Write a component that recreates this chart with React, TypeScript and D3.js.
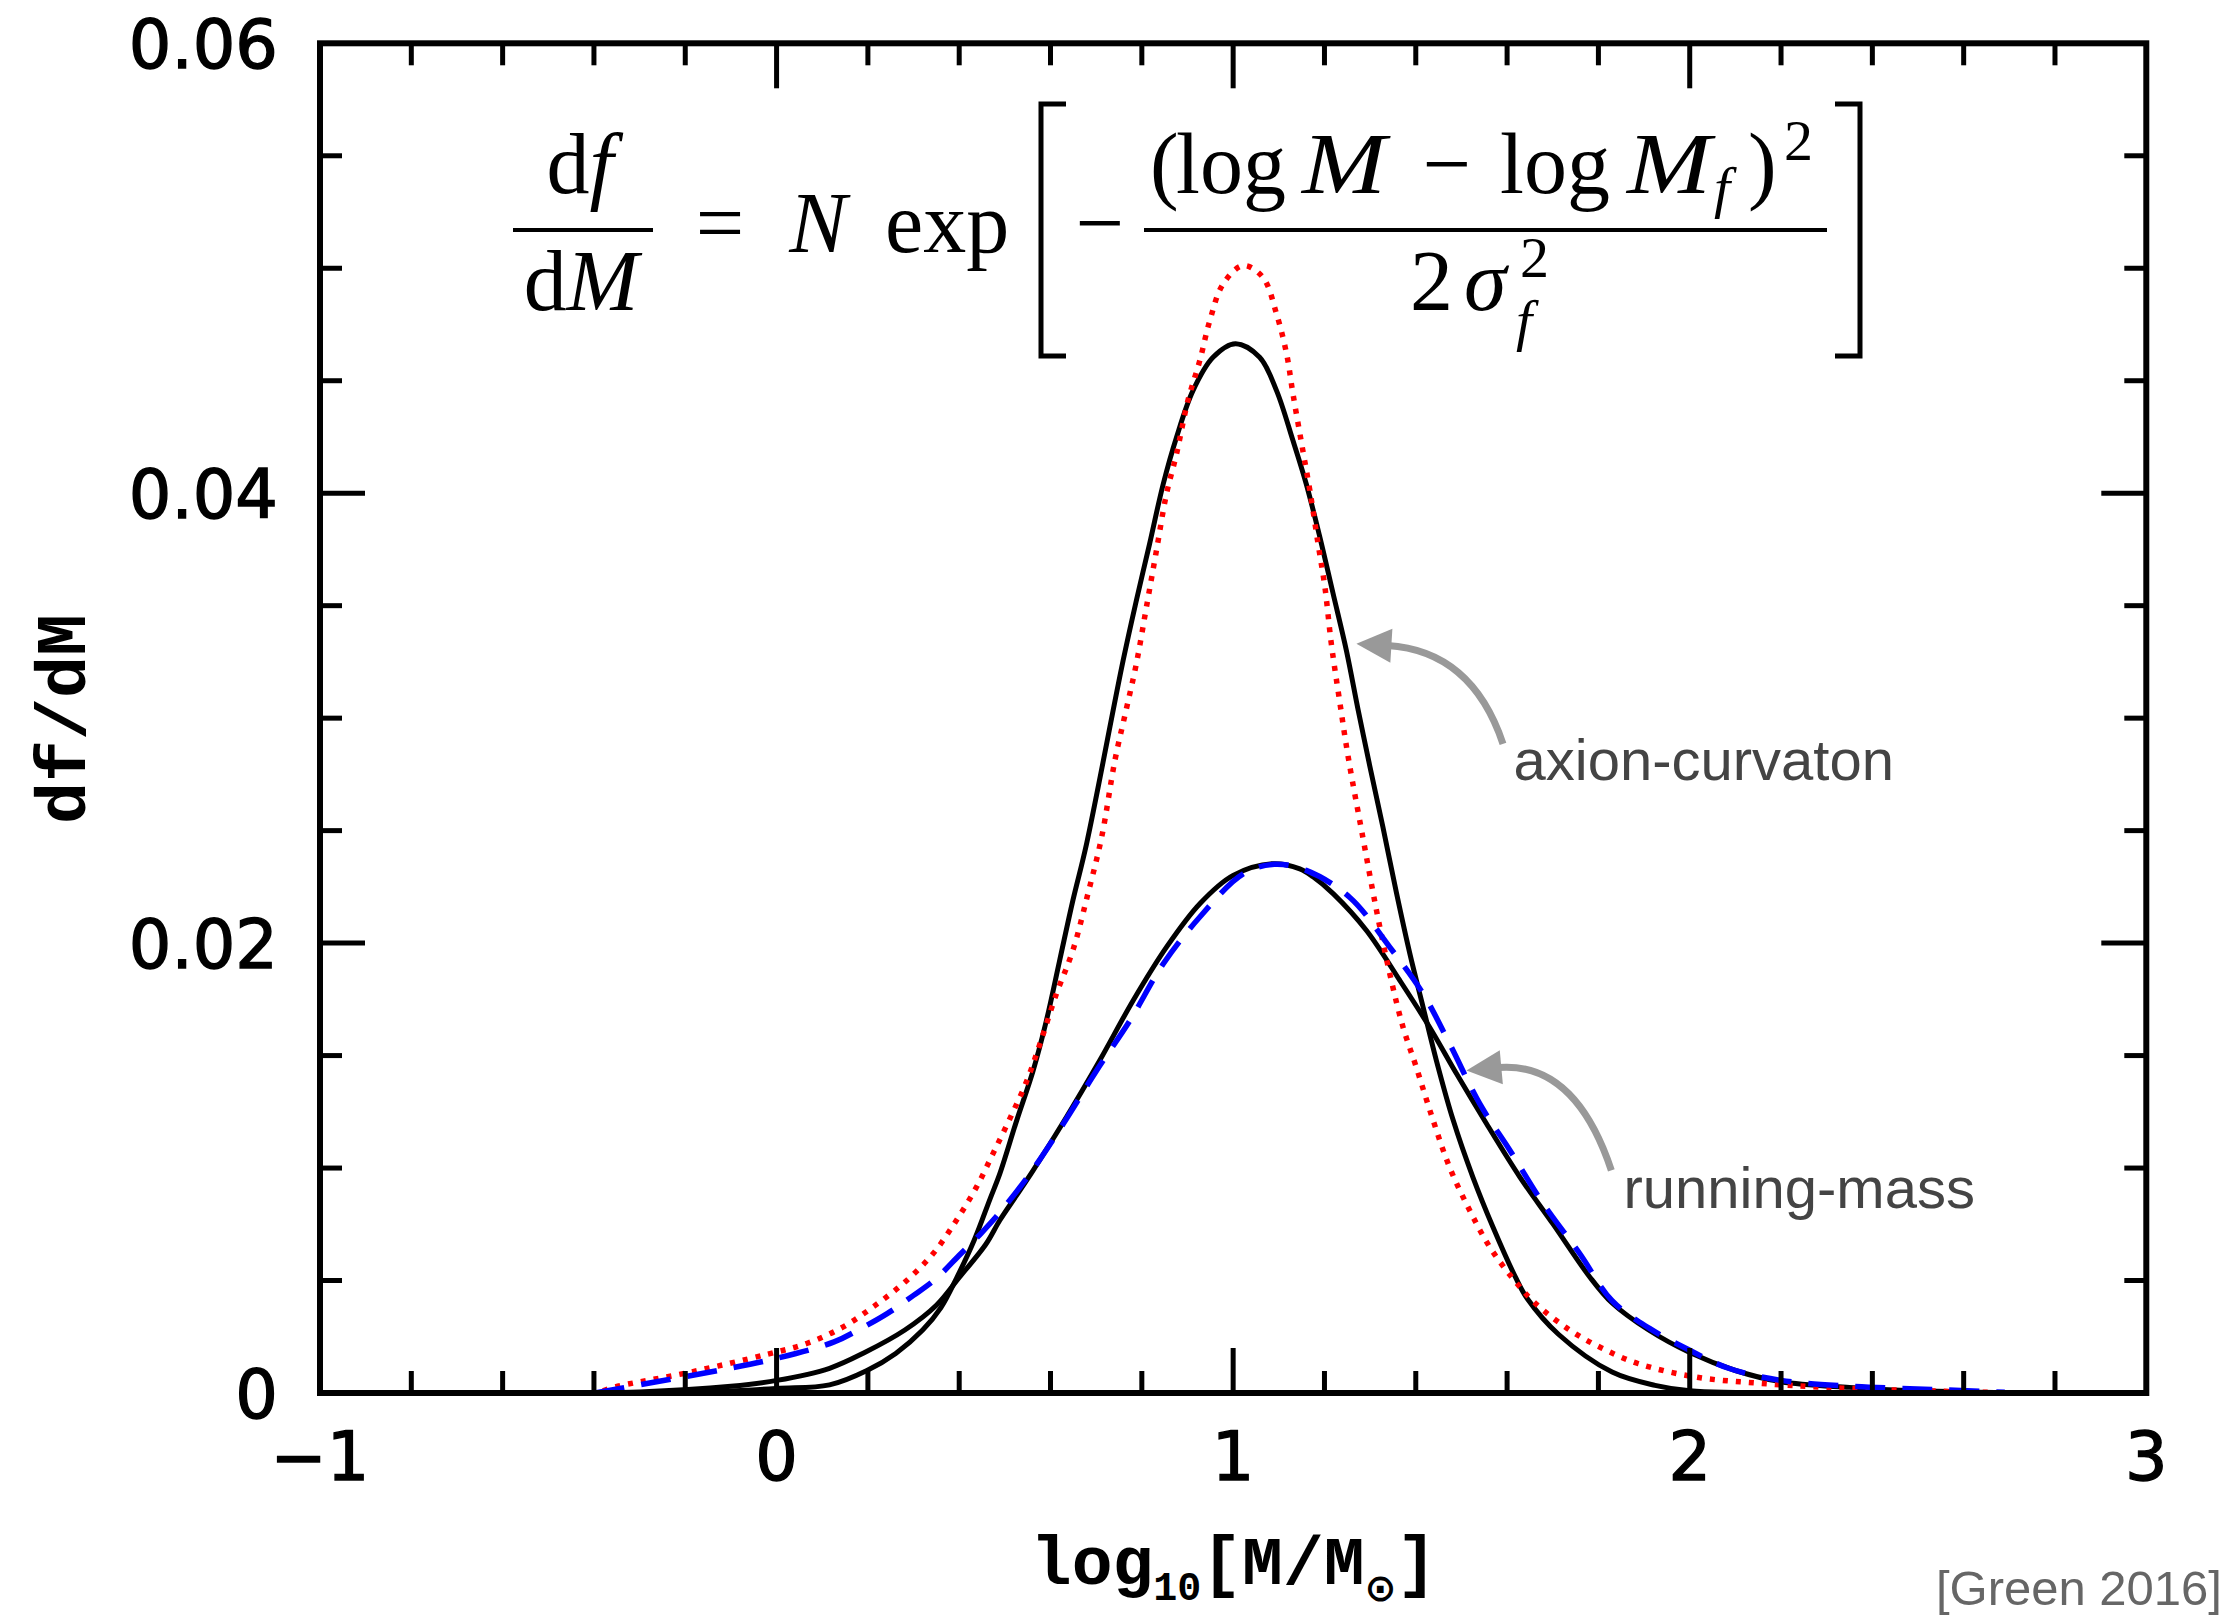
import React from 'react';
import * as d3 from 'd3';

type Pt = [number, number];

// ---------- DATA (log10[M/Msun], df/dM) ----------
const axionCurvaton: Pt[] = [
  [-0.5, 0], [-0.2, 0.00002], [0.0, 0.0002], [0.116, 0.00036], [0.198, 0.001], [0.261, 0.00176],
  [0.32, 0.0028], [0.36, 0.0038], [0.394, 0.0051], [0.433, 0.0068], [0.467, 0.0086], [0.489, 0.00975],
  [0.526, 0.01212], [0.562, 0.01434], [0.591, 0.01656], [0.62, 0.01923], [0.649, 0.0219],
  [0.679, 0.02442], [0.759, 0.03256], [0.788, 0.03523],
  [0.817, 0.03775], [0.847, 0.04042], [0.876, 0.04249], [0.912, 0.04456], [0.956, 0.04604],
  [1.005, 0.04664], [1.058, 0.04604], [1.095, 0.04456], [1.131, 0.04234], [1.16, 0.04042],
  [1.19, 0.03804], [1.219, 0.03553], [1.248, 0.03301], [1.274, 0.03034], [1.299, 0.0279],
  [1.328, 0.02516], [1.358, 0.0222], [1.387, 0.01953], [1.416, 0.01716], [1.445, 0.01479],
  [1.482, 0.01212], [1.525, 0.0096], [1.569, 0.00738], [1.62, 0.00508], [1.644, 0.0042],
  [1.713, 0.0026], [1.83, 0.00093], [1.924, 0.00034], [2.0, 0.0001], [2.2, 0],
];

const axionFit: Pt[] = [
  [-0.38, 0.0001], [-0.354, 0.00027], [-0.188, 0.00093], [-0.021, 0.00172], [0.066, 0.0022],
  [0.145, 0.00293], [0.213, 0.00385], [0.281, 0.00493], [0.343, 0.0062], [0.394, 0.00768],
  [0.438, 0.00916], [0.474, 0.01064], [0.511, 0.0122], [0.547, 0.01382], [0.577, 0.01553],
  [0.613, 0.01775], [0.649, 0.01968], [0.682, 0.0222], [0.712, 0.02471], [0.741, 0.02812],
  [0.766, 0.0304], [0.788, 0.03242], [0.81, 0.03493], [0.832, 0.03745], [0.854, 0.03997],
  [0.876, 0.04175], [0.901, 0.04412], [0.927, 0.0459], [0.949, 0.04768], [0.978, 0.0493],
  [1.022, 0.05012], [1.065, 0.0496], [1.095, 0.04797], [1.117, 0.0462], [1.131, 0.04442],
  [1.15, 0.0422], [1.168, 0.04012], [1.186, 0.03775], [1.201, 0.03582], [1.215, 0.03331],
  [1.233, 0.03079], [1.252, 0.02827], [1.284, 0.02471], [1.314, 0.02145], [1.343, 0.01864],
  [1.372, 0.01627], [1.401, 0.01449], [1.438, 0.01212], [1.474, 0.01004], [1.518, 0.00812],
  [1.562, 0.00649], [1.613, 0.00508], [1.661, 0.004], [1.737, 0.0028], [1.807, 0.002],
  [1.888, 0.0013], [2.016, 0.0007], [2.155, 0.00043], [2.295, 0.00025], [2.47, 0.00012],
  [2.66, 0.00003],
];

const runningMass: Pt[] = [
  [-0.57, 0], [-0.3, 0.00005], [-0.1, 0.0003], [0.0, 0.00056], [0.116, 0.0011], [0.193, 0.0018],
  [0.281, 0.0028], [0.35, 0.0039], [0.401, 0.00516], [0.458, 0.0066], [0.489, 0.00768],
  [0.526, 0.0088], [0.562, 0.0099], [0.635, 0.01227], [0.708, 0.01479], [0.781, 0.01745],
  [0.854, 0.01982], [0.927, 0.02175], [1.0, 0.02301], [1.087, 0.02353], [1.146, 0.0233],
  [1.175, 0.02295], [1.219, 0.0222], [1.292, 0.02056], [1.365, 0.01834], [1.43, 0.01627],
  [1.489, 0.0142], [1.555, 0.01197], [1.628, 0.0096], [1.7, 0.00753], [1.781, 0.00516],
  [1.83, 0.004], [1.91, 0.0028], [2.0, 0.0018], [2.1, 0.001], [2.2, 0.0005], [2.35, 0.00025],
  [2.5, 0.0001], [2.75, 0],
];

const runningFit: Pt[] = [
  [-0.398, 0], [-0.266, 0.00049], [-0.128, 0.001], [0.0, 0.00154], [0.126, 0.00227],
  [0.185, 0.00287], [0.243, 0.00354], [0.3, 0.00434], [0.35, 0.0051], [0.399, 0.0061],
  [0.448, 0.0071], [0.492, 0.0081], [0.555, 0.00975], [0.628, 0.01197], [0.701, 0.01434],
  [0.774, 0.01656], [0.847, 0.01908], [0.927, 0.02116], [1.022, 0.02308], [1.09, 0.0235],
  [1.16, 0.02323], [1.255, 0.02204], [1.343, 0.01982], [1.416, 0.01775], [1.474, 0.01553],
  [1.54, 0.01286], [1.606, 0.01079], [1.679, 0.00842], [1.759, 0.0062], [1.83, 0.0041],
  [1.912, 0.00287], [2.0, 0.0019], [2.085, 0.0011], [2.2, 0.00056], [2.354, 0.0003],
  [2.53, 0.00016], [2.69, 0.00003],
];

const xTickLabels = [-1, 0, 1, 2, 3];
const yTickLabels = [0, 0.02, 0.04, 0.06];
const xMinorStep = 0.2;
const yMinorStep = 0.005;

const xTitle = 'log';
const yTitle = 'df/dM';
const labelAxion = 'axion-curvaton';
const labelRunning = 'running-mass';
const credit = '[Green 2016]';

// annotation anchors in data units
const axionArrow = { tip: [1.27, 0.03331] as Pt, ctrl: [1.5224, 0.033] as Pt, end: [1.591, 0.02886] as Pt };
const runningArrow = { tip: [1.511, 0.01434] as Pt, ctrl: [1.7482, 0.01478] as Pt, end: [1.8283, 0.0099] as Pt };
const axionLabelPos: Pt = [1.614, 0.02723];
const runningLabelPos: Pt = [1.855, 0.00821];

// ---------- LAYOUT ----------
const W = 2233, H = 1619;
const L = 320, R = 2146.3, T = 43.3, B = 1393;

const x = d3.scaleLinear().domain([-1, 3]).range([L, R]);
const y = d3.scaleLinear().domain([0, 0.06]).range([B, T]);

const line = d3.line<Pt>().x(d => x(d[0])).y(d => y(d[1])).curve(d3.curveCatmullRom.alpha(0.5));

function Arrow({ a }: { a: { tip: Pt; ctrl: Pt; end: Pt } }) {
  const tip = [x(a.tip[0]), y(a.tip[1])];
  const c = [x(a.ctrl[0]), y(a.ctrl[1])];
  const e = [x(a.end[0]), y(a.end[1])];
  const dx = tip[0] - c[0], dy = tip[1] - c[1];
  const len = Math.hypot(dx, dy);
  const ux = dx / len, uy = dy / len;
  const hl = 35, hw = 17;
  const base = [tip[0] - ux * hl, tip[1] - uy * hl];
  const p1 = [base[0] - uy * hw, base[1] + ux * hw];
  const p2 = [base[0] + uy * hw, base[1] - ux * hw];
  const lineEnd = [tip[0] - ux * (hl - 4), tip[1] - uy * (hl - 4)];
  return (
    <g>
      <path d={`M${e[0]},${e[1]} Q${c[0]},${c[1]} ${lineEnd[0]},${lineEnd[1]}`} fill="none" stroke="#999" strokeWidth={7} />
      <polygon points={`${tip[0]},${tip[1]} ${p1[0]},${p1[1]} ${p2[0]},${p2[1]}`} fill="#999" />
    </g>
  );
}

function Formula() {
  const serif = 'Liberation Serif, Times New Roman, serif';
  const fs = 86, sfs = 58;
  return (
    <g fontFamily={serif} fill="#000">
      <text x={580} y={193} fontSize={fs} textAnchor="middle">d<tspan fontStyle="italic">f</tspan></text>
      <line x1={513} x2={653} y1={230} y2={230} stroke="#000" strokeWidth={4} />
      <text x={581} y={310} fontSize={fs} textAnchor="middle">d<tspan fontStyle="italic">M</tspan></text>
      <text x={720} y={252} fontSize={fs} textAnchor="middle">=</text>
      <text x={818} y={252} fontSize={fs} textAnchor="middle" fontStyle="italic">N</text>
      <text x={885} y={252} fontSize={fs}>exp</text>
      <path d="M1066,104 H1041 V356 H1066" fill="none" stroke="#000" strokeWidth={5} />
      <text x={1100} y={252} fontSize={fs} textAnchor="middle">−</text>
      <line x1={1144} x2={1827} y1={230} y2={230} stroke="#000" strokeWidth={4} />
      <text x={1150} y={193} fontSize={fs}>(</text>
      <text x={1176} y={193} fontSize={fs}>log</text>
      <text x={1302} y={193} fontSize={fs} fontStyle="italic" textLength={84} lengthAdjust="spacingAndGlyphs">M</text>
      <text x={1447} y={193} fontSize={fs} textAnchor="middle">−</text>
      <text x={1500} y={193} fontSize={fs}>log</text>
      <text x={1627} y={193} fontSize={fs} fontStyle="italic" textLength={84} lengthAdjust="spacingAndGlyphs">M</text>
      <text x={1714} y={207} fontSize={sfs} fontStyle="italic">f</text>
      <text x={1748} y={193} fontSize={fs}>)</text>
      <text x={1784} y={160} fontSize={sfs}>2</text>
      <text x={1410} y={310} fontSize={fs}>2</text>
      <text x={1464} y={310} fontSize={fs} fontStyle="italic">σ</text>
      <text x={1520} y={277} fontSize={sfs}>2</text>
      <text x={1516} y={340} fontSize={sfs} fontStyle="italic">f</text>
      <path d="M1835,104 H1860 V356 H1835" fill="none" stroke="#000" strokeWidth={5} />
    </g>
  );
}

export default function App() {
  const xMinor = d3.range(-1 + xMinorStep, 3 - 1e-9, xMinorStep).map(v => Math.round(v * 10) / 10);
  const yMinor = d3.range(yMinorStep, 0.06 - 1e-9, yMinorStep).map(v => Math.round(v * 1000) / 1000);
  const isMajorX = (v: number) => Math.abs(v - Math.round(v)) < 1e-6;
  const isMajorY = (v: number) => Math.abs(v / 0.02 - Math.round(v / 0.02)) < 1e-6;
  const minorLen = 22, majorLen = 45;
  const tickFont = 'DejaVu Sans, Verdana, sans-serif';
  const fmtY = (v: number) => (v === 0 ? '0' : v.toFixed(2));
  const fmtX = (v: number) => (v < 0 ? '−' + Math.abs(v) : String(v));

  return (
    <svg width={W} height={H} viewBox={`0 0 ${W} ${H}`} style={{ position: 'absolute', left: 0, top: 0, background: '#fff' }}>
      <defs>
        <clipPath id="plot">
          <rect x={L} y={T} width={R - L} height={B - T} />
        </clipPath>
      </defs>
      <rect x={0} y={0} width={W} height={H} fill="#fff" />

      <Formula />

      <g clipPath="url(#plot)" fill="none">
        <path d={line(axionCurvaton) || ''} stroke="#000" strokeWidth={5} />
        <path d={line(runningMass) || ''} stroke="#000" strokeWidth={5} />
        <path d={line(axionFit) || ''} stroke="#ff0000" strokeWidth={5.5} strokeDasharray="5 8" />
        <path d={line(runningFit) || ''} stroke="#0000ff" strokeWidth={5.5} strokeDasharray="30 17" />
      </g>

      <g stroke="#000" strokeWidth={5}>
        {xMinor.map(v => {
          const len = isMajorX(v) ? majorLen : minorLen;
          return (
            <g key={'x' + v}>
              <line x1={x(v)} x2={x(v)} y1={B} y2={B - len} />
              <line x1={x(v)} x2={x(v)} y1={T} y2={T + len} />
            </g>
          );
        })}
        {yMinor.map(v => {
          const len = isMajorY(v) ? majorLen : minorLen;
          return (
            <g key={'y' + v}>
              <line x1={L} x2={L + len} y1={y(v)} y2={y(v)} />
              <line x1={R} x2={R - len} y1={y(v)} y2={y(v)} />
            </g>
          );
        })}
      </g>
      <rect x={L} y={T} width={R - L} height={B - T} fill="none" stroke="#000" strokeWidth={6} strokeLinejoin="miter" />

      <g fontFamily={tickFont} fontSize={67} fill="#000" stroke="#000" strokeWidth={1.4}>
        {xTickLabels.map(v => (
          <text key={'xl' + v} x={x(v)} y={1480} textAnchor="middle">{fmtX(v)}</text>
        ))}
        {yTickLabels.map(v => (
          <text key={'yl' + v} x={278} y={y(v) + 25} textAnchor="end">{fmtY(v)}</text>
        ))}
      </g>

      <text transform="translate(85,719) rotate(-90)" textAnchor="middle" fontFamily="Liberation Mono, Courier New, monospace" fontWeight="bold" fontSize={70} fill="#000">{yTitle}</text>
      <text x={1234} y={1584} textAnchor="middle" fontFamily="Liberation Mono, Courier New, monospace" fontWeight="bold" fontSize={68} fill="#000">
        {xTitle}
        <tspan fontSize={40} dy={16}>10</tspan>
        <tspan dy={-16}>[M/M</tspan>
        <tspan fontSize={38} dy={17} fontFamily="DejaVu Sans" fontWeight="bold">⊙</tspan>
        <tspan dy={-17}>]</tspan>
      </text>

      <Arrow a={axionArrow} />
      <Arrow a={runningArrow} />
      <text x={x(axionLabelPos[0])} y={y(axionLabelPos[1])} fontFamily="Liberation Sans, Arial, sans-serif" fontSize={58} fill="#444">{labelAxion}</text>
      <text x={x(runningLabelPos[0])} y={y(runningLabelPos[1])} fontFamily="Liberation Sans, Arial, sans-serif" fontSize={58} fill="#444">{labelRunning}</text>
      <text x={2222} y={1605} textAnchor="end" fontFamily="Liberation Sans, Arial, sans-serif" fontSize={49} fill="#666">{credit}</text>
    </svg>
  );
}
